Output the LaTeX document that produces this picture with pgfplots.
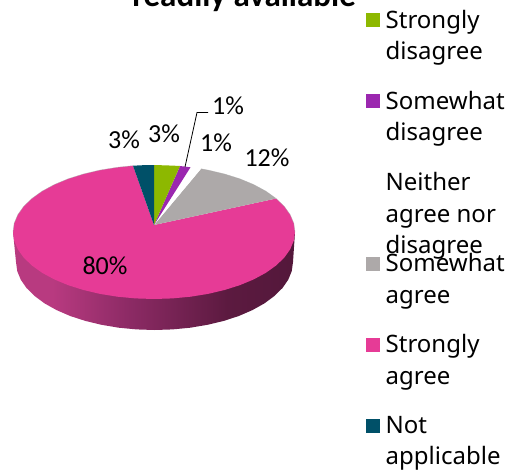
\documentclass[border=0pt]{standalone}
\usepackage{fontspec}
\setmainfont{Carlito}
\newfontfamily\legendfont{Noto Sans}
\usepackage{pgfplots}
\pgfplotsset{compat=1.18}
\definecolor{cGreen}{HTML}{8DB800}
\definecolor{cPurple}{HTML}{9B27AF}
\definecolor{cGrey}{HTML}{ADA9A9}
\definecolor{cPink}{HTML}{E63B96}
\definecolor{cTeal}{HTML}{005068}
\definecolor{wA}{HTML}{A83576}
\definecolor{wB}{HTML}{B83A80}
\definecolor{wC}{HTML}{8E2B66}
\definecolor{wD}{HTML}{5C1A40}
\definecolor{wE}{HTML}{4A1535}
\definecolor{wF}{HTML}{571A40}
% Shaded side wall of the disc, lit from the left
\pgfdeclarehorizontalshading{wallshade}{100bp}{
  color(0bp)=(wA);
  color(12bp)=(wB);
  color(32bp)=(wB);
  color(45bp)=(wC);
  color(63bp)=(wD);
  color(88bp)=(wE);
  color(100bp)=(wF)}
\newcommand{\lbl}[3]{\node[anchor=center,inner sep=0pt,font=\fontsize{26}{26}\selectfont] at (axis cs:#1,#2) {#3};}
\newcommand{\leg}[3]{\node[anchor=base west,inner sep=0pt,font=\legendfont\fontsize{24}{24}\selectfont] at (axis cs:#1,#2) {#3};}
\begin{document}
\begin{tikzpicture}
\path[use as bounding box] (0,0) rectangle (522pt,472pt);
\begin{axis}[
  at={(0,0)}, anchor=south west,
  scale only axis, width=522pt, height=472pt,
  xmin=0, xmax=522, ymin=0, ymax=472, y dir=reverse,
  hide axis, clip=false,
  every axis plot/.append style={no markers, forget plot}]

% side wall
\addplot[shade, shading=wallshade, draw=none] coordinates {
 (13,232)(16,262)(17.2,270.9)(20.7,279.6)(26.5,288)(34.6,296)(44.6,303.4)(56.6,310.1)
 (70.2,316)(85.3,320.9)(101.5,324.8)(118.7,327.7)(136.4,329.4)(154.5,330)(172.6,329.4)
 (190.3,327.7)(207.5,324.8)(223.8,320.9)(238.8,316)(252.4,310.1)(264.4,303.4)(274.4,296)
 (282.5,288)(288.3,279.6)(291.8,270.9)(293,262)(295,232)} -- cycle;

% Strongly agree, 80%
\addplot[fill=cPink, draw=none] coordinates {
 (154,225)(276.1,198.5)(284.3,206.4)(290.2,214.7)(293.8,223.3)(295,232)
 (293.8,240.7)(290.2,249.3)(284.3,257.6)(276.1,265.5)(265.9,272.8)(253.7,279.4)(239.8,285.2)
 (224.5,290)(208,293.9)(190.5,296.7)(172.4,298.4)(154,299)(135.6,298.4)(117.5,296.7)(100,293.9)
 (83.5,290)(68.2,285.2)(54.3,279.4)(42.1,272.8)(31.9,265.5)(23.7,257.6)(17.8,249.3)(14.2,240.7)
 (13,232)(14.2,223.3)(17.8,214.7)(23.7,206.4)(31.9,198.5)(42.1,191.2)(54.3,184.6)(68.2,178.8)
 (83.5,174)(100,170.1)(117.5,167.3)(133,165.7)} -- cycle;
% Somewhat agree, 12%
\addplot[fill=cGrey, draw=none] coordinates {
 (154,225)(201,168.8)(208,170.1)(224.5,174)(239.8,178.8)(253.7,184.6)(265.9,191.2)(276.1,198.5)} -- cycle;
% Neither agree nor disagree, 1%
\addplot[fill=white, draw=none] coordinates {(154,225)(190.5,167.3)(201,168.8)} -- cycle;
% Somewhat disagree, 1%
\addplot[fill=cPurple, draw=none] coordinates {(154,225)(180,166)(190.5,167.3)} -- cycle;
% Strongly disagree, 3%
\addplot[fill=cGreen, draw=none] coordinates {(154,225)(154,165)(172.4,165.6)(180,166)} -- cycle;
% Not applicable, 3%
\addplot[fill=cTeal, draw=none] coordinates {(154,225)(133,165.7)(143,165.2)(154,165)} -- cycle;

% faint rim on the back edge of the top face
\addplot[draw=black!35, line width=0.5pt, opacity=0.6] coordinates {
 (13,232)(14.2,223.3)(17.8,214.7)(23.7,206.4)(31.9,198.5)(42.1,191.2)(54.3,184.6)(68.2,178.8)
 (83.5,174)(100,170.1)(117.5,167.3)(133,165.7)};
\addplot[draw=black!35, line width=0.5pt, opacity=0.6] coordinates {
 (201,168.8)(208,170.1)(224.5,174)(239.8,178.8)(253.7,184.6)(265.9,191.2)(276.1,198.5)
 (284.3,206.4)(290.2,214.7)(293.8,223.3)(295,232)};

% leader line of the small slice
\addplot[draw=black, line width=0.8pt] coordinates {(185,167)(197,112.5)(208,112.5)};

% data labels
\lbl{124}{140}{3\%}
\lbl{164}{134}{3\%}
\lbl{228}{106}{1\%}
\lbl{216}{143}{1\%}
\lbl{267}{158}{12\%}
\lbl{105}{266}{80\%}

% title, running off the top edge
\node[anchor=base,inner sep=0pt,font=\bfseries\fontsize{33}{33}\selectfont] at (axis cs:244,6) {readily available};

% legend swatches
\addplot[fill=cGreen, draw=none] coordinates {(366,13)(380,13)(380,27)(366,27)} -- cycle;
\addplot[fill=cPurple, draw=none] coordinates {(366,94)(380,94)(380,108)(366,108)} -- cycle;
\addplot[fill=cGrey, draw=none] coordinates {(366,257)(380,257)(380,271)(366,271)} -- cycle;
\addplot[fill=cPink, draw=none] coordinates {(366,338)(380,338)(380,352)(366,352)} -- cycle;
\addplot[fill=cTeal, draw=none] coordinates {(366,419)(380,419)(380,433)(366,433)} -- cycle;

% legend entries
\leg{385.5}{28}{Strongly}
\leg{385.5}{59}{disagree}
\leg{385.5}{109}{Somewhat}
\leg{385.5}{140}{disagree}
\leg{385.5}{190}{Neither}
\leg{385.5}{222}{agree nor}
\leg{385.5}{253}{disagree}
\leg{385.5}{271}{Somewhat}
\leg{385.5}{303}{agree}
\leg{385.5}{352}{Strongly}
\leg{385.5}{384}{agree}
\leg{385.5}{433}{Not}
\leg{385.5}{464}{applicable}
\end{axis}
\end{tikzpicture}
\end{document}
